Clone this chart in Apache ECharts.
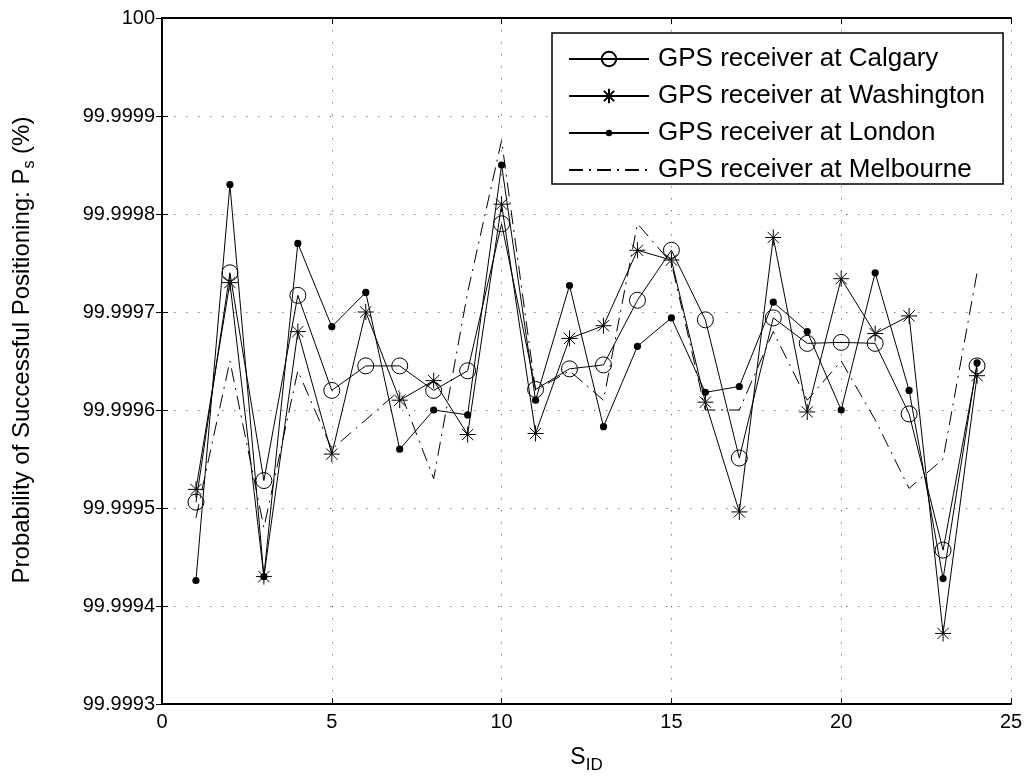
<!DOCTYPE html>
<html><head><meta charset="utf-8">
<script src="https://cdn.jsdelivr.net/npm/echarts@6/dist/echarts.min.js"></script>
<style>html,body{margin:0;padding:0;background:#fff}#c{width:1032px;height:782px}</style>
</head><body><div id="c"></div>
<script>
const sid = [1,2,3,4,5,6,7,8,9,10,11,12,13,14,15,16,17,18,19,20,21,22,23,24];
const calgary = [99.999506,99.99974,99.999528,99.999717,99.99962,99.999645,99.999645,99.99962,99.99964,99.99979,99.999621,99.999642,99.999646,99.999712,99.999763,99.999692,99.999551,99.999694,99.999668,99.999669,99.999668,99.999596,99.999457,99.999645];
const washington = [99.999519,99.99973,99.99943,99.99968,99.999555,99.9997,99.99961,99.99963,99.999575,99.99981,99.999576,99.999673,99.999686,99.999763,99.999753,99.999608,99.999496,99.999776,99.999598,99.999734,99.999678,99.999696,99.999372,99.999635];
const london = [99.999426,99.99983,99.99943,99.99977,99.999685,99.99972,99.99956,99.9996,99.999595,99.99985,99.99961,99.999727,99.999583,99.999665,99.999694,99.999618,99.999624,99.99971,99.99968,99.9996,99.99974,99.99962,99.999428,99.999648];
const melbourne = [99.99949,99.99965,99.99948,99.99964,99.99956,99.99959,99.99962,99.99953,99.99972,99.999875,99.99962,99.99964,99.99961,99.99979,99.99975,99.9996,99.9996,99.99968,99.99961,99.99965,99.99959,99.99952,99.99955,99.99974];
const names = ['GPS receiver at Calgary','GPS receiver at Washington','GPS receiver at London','GPS receiver at Melbourne'];

const FONT = 'Liberation Sans, Arial, Helvetica, sans-serif';
const pts = arr => sid.map((s, i) => [s, arr[i]]);
const STAR = 'path://M0,-10L0,10M-10,0L10,0M-7.07,-7.07L7.07,7.07M-7.07,7.07L7.07,-7.07';
// filled dot inside a padded 20x20 box so the dot stays small in the legend too
const DOT = 'path://M-10,-10M10,10M-4.5,0A4.5,4.5 0 1,1 4.5,0A4.5,4.5 0 1,1 -4.5,0Z';
const BLANK = 'path://M0,0L20,0L20,20L0,20Z';

const chart = echarts.init(document.getElementById('c'), null, {renderer: 'canvas'});
const yFmt = v => (Math.abs(v - 100) < 1e-9 ? '100' : v.toFixed(4));
const gridDots = {show: true, lineStyle: {color: '#808080', width: 1, type: [1.5, 10.5]}};
const axLine = {show: true, lineStyle: {color: '#000', width: 2}};
const tick = {show: true, inside: true, length: 6, lineStyle: {color: '#000', width: 1}};

chart.setOption({
  animation: false,
  backgroundColor: '#fff',
  grid: {left: 162, right: 21, top: 18, bottom: 78, containLabel: false},
  xAxis: [
    {type: 'value', min: 0, max: 25, interval: 5, position: 'bottom',
     axisLine: axLine, axisTick: tick, splitLine: gridDots,
     axisLabel: {color: '#000', fontSize: 20, fontFamily: FONT, margin: 8},
     name: '{a|S}{b|ID}', nameLocation: 'middle', nameGap: 42,
     nameTextStyle: {rich: {
       a: {fontSize: 23, fontFamily: FONT, color: '#000', lineHeight: 28, verticalAlign: 'top'},
       b: {fontSize: 17, fontFamily: FONT, color: '#000', lineHeight: 28, verticalAlign: 'bottom'}}}},
    {type: 'value', min: 0, max: 25, interval: 5, position: 'top',
     axisLine: axLine, axisTick: tick, splitLine: {show: false}, axisLabel: {show: false}}
  ],
  yAxis: [
    {type: 'value', min: 99.9993, max: 100, interval: 0.0001, position: 'left',
     axisLine: axLine, axisTick: tick, splitLine: gridDots,
     axisLabel: {color: '#000', fontSize: 20, fontFamily: FONT, margin: 7, formatter: yFmt},
     name: '{a|Probability of Successful Positioning: P}{b|s}{a| (%)}',
     nameLocation: 'middle', nameGap: 124, nameRotate: 90,
     nameTextStyle: {padding: [0, 0, 0, 22], rich: {
       a: {fontSize: 24, fontFamily: FONT, color: '#000', lineHeight: 28, verticalAlign: 'top'},
       b: {fontSize: 16, fontFamily: FONT, color: '#000', lineHeight: 28, verticalAlign: 'bottom'}}}},
    {type: 'value', min: 99.9993, max: 100, interval: 0.0001, position: 'right',
     axisLine: axLine, axisTick: tick, splitLine: {show: false}, axisLabel: {show: false}}
  ],
  legend: {
    orient: 'vertical', left: 552, top: 33,
    data: names,
    itemWidth: 80, itemHeight: 18, itemGap: 11,
    padding: [13, 18, 1, 16],
    borderColor: '#000', borderWidth: 1.5, backgroundColor: '#fff',
    textStyle: {color: '#000', fontSize: 26, fontFamily: FONT, padding: [0, 0, 0, 4]}
  },
  series: [
    {name: names[0], type: 'line', data: pts(calgary), symbol: 'circle', symbolSize: 16,
     itemStyle: {color: 'none', borderColor: '#000', borderWidth: 1},
     lineStyle: {color: '#000', width: 1}, z: 3},
    {name: names[1], type: 'line', data: pts(washington), symbol: STAR, symbolSize: 16,
     itemStyle: {color: 'none', borderColor: '#000', borderWidth: 1},
     lineStyle: {color: '#000', width: 1}, z: 3},
    {name: names[2], type: 'line', data: pts(london), symbol: DOT, symbolSize: 16,
     itemStyle: {color: '#000', borderColor: 'none', borderWidth: 0},
     lineStyle: {color: '#000', width: 1}, z: 3},
    {name: names[3], type: 'line', data: pts(melbourne), symbol: BLANK, showSymbol: false,
     itemStyle: {color: 'none', borderColor: 'none', borderWidth: 0},
     lineStyle: {color: '#000', width: 1, type: [14, 6, 2, 6]}, z: 2}
  ]
});
</script></body></html>
